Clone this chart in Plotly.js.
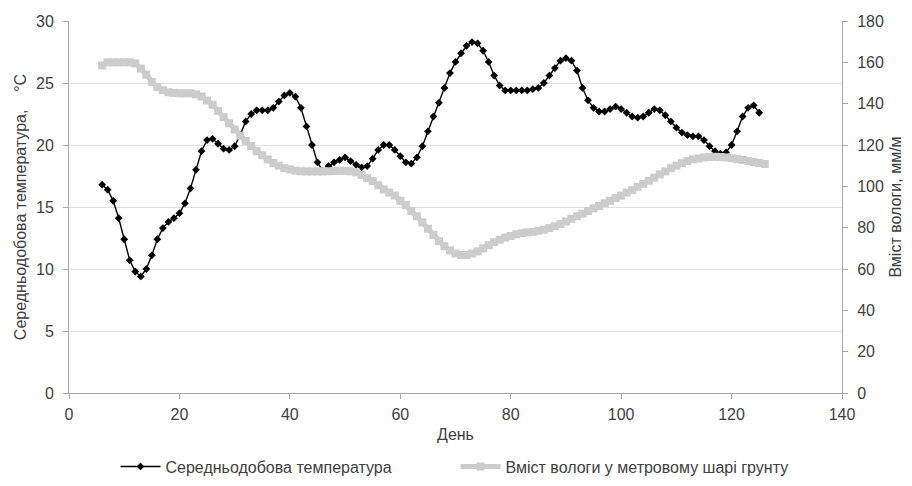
<!DOCTYPE html>
<html>
<head>
<meta charset="utf-8">
<script src="https://cdn.plot.ly/plotly-3.0.1.min.js"></script>
<style>html,body{margin:0;padding:0;background:#fff;}#chart{width:912px;height:486px;}</style>
</head>
<body>
<div id="chart"></div>
<script>
// Days
const tempStartDay = 6;
const moistStartDay = 6;

// Середньодобова температура, °C (days 6..125)
const temperature = [
  16.8, 16.4, 15.5, 14.1, 12.4, 10.7, 9.8, 9.4, 10.0, 11.1,
  12.4, 13.3, 13.8, 14.1, 14.5, 15.3, 16.5, 18.0, 19.5, 20.4,
  20.5, 20.1, 19.7, 19.6, 19.9, 20.8, 21.9, 22.5, 22.8, 22.8,
  22.8, 23.0, 23.5, 24.0, 24.2, 23.9, 23.0, 21.5, 20.0, 18.6,
  17.9, 18.3, 18.6, 18.8, 19.0, 18.7, 18.4, 18.2, 18.3, 18.9,
  19.6, 20.0, 20.0, 19.6, 19.1, 18.6, 18.5, 19.0, 19.9, 21.1,
  22.3, 23.4, 24.6, 25.8, 26.7, 27.4, 28.0, 28.3, 28.2, 27.6,
  26.7, 25.6, 24.8, 24.4, 24.4, 24.4, 24.4, 24.4, 24.5, 24.6,
  25.0, 25.6, 26.2, 26.8, 27.0, 26.8, 26.0, 24.6, 23.6, 23.0,
  22.7, 22.7, 22.9, 23.1, 22.9, 22.6, 22.3, 22.2, 22.3, 22.6,
  22.9, 22.8, 22.4, 21.9, 21.4, 21.0, 20.8, 20.7, 20.7, 20.4,
  19.9, 19.5, 19.3, 19.4, 20.0, 21.1, 22.3, 23.0, 23.2, 22.6
];

// Вміст вологи у метровому шарі грунту, мм/м (days 6..126)
const moisture = [
  158.5, 160, 160, 160, 160, 160, 159.5, 157, 154, 150.5,
  148, 146.5, 145.5, 145.2, 145, 145, 145, 144.5, 143.5, 141.5,
  139.5, 136.5, 133.5, 130.5, 127.5, 124.5, 122, 119.5, 117, 115,
  113, 111.3, 110, 108.8, 108.2, 107.6, 107.3, 107.2, 107.2, 107.2,
  107.2, 107.3, 107.4, 107.5, 107.5, 107.3, 106.8, 105.5, 104, 102.5,
  100.5, 98.5, 97, 95.5, 93, 91, 88, 85.5, 82.5, 79.5,
  76.5, 73.5, 71, 69, 67.5, 66.8, 66.8, 67.5, 68.5, 70,
  71.5, 73, 74.2, 75.2, 76, 76.8, 77.3, 77.7, 78, 78.5,
  79, 79.8, 80.7, 81.8, 83, 84.3, 85.5, 86.8, 88, 89.3,
  90.5, 91.8, 93, 94.3, 95.5, 97, 98.3, 99.8, 101.2, 102.7,
  104.2, 105.8, 107.2, 108.8, 110, 111.2, 112.2, 113, 113.5, 114,
  114.2, 114.3, 114.2, 114, 113.6, 113.2, 112.8, 112.3, 111.8, 111.3,
  110.8
];

const seriesNames = ['Середньодобова температура', 'Вміст вологи у метровому шарі грунту'];
const xTitle = 'День';
const yTitle = 'Середньодобова температура,    °C';
const y2Title = 'Вміст вологи, мм/м';

const tempDays = temperature.map((_, i) => tempStartDay + i);
const moistDays = moisture.map((_, i) => moistStartDay + i);

const axisColor = '#a6a6a6';
const fontFam = 'Liberation Sans, Arial, sans-serif';

const traces = [
  {
    x: tempDays, y: temperature, name: seriesNames[0], type: 'scatter', mode: 'lines+markers',
    line: {color: '#000000', width: 1.4},
    marker: {symbol: 'diamond', size: 6, color: '#000000'},
    yaxis: 'y'
  },
  {
    x: moistDays, y: moisture, name: seriesNames[1], type: 'scatter', mode: 'lines+markers',
    line: {color: '#cccccc', width: 5},
    marker: {symbol: 'square', size: 8, color: '#cccccc'},
    yaxis: 'y2'
  }
];

const layout = {
  width: 912, height: 486,
  margin: {l: 69, r: 70, t: 21, b: 93},
  paper_bgcolor: '#ffffff', plot_bgcolor: '#ffffff',
  font: {family: fontFam, size: 16, color: '#404040'},
  showlegend: true,
  legend: {orientation: 'h', x: 0.5, xanchor: 'center', yref: 'container', y: 0.04, yanchor: 'middle',
           font: {size: 16, color: '#404040'}, itemwidth: 40, entrywidth: 285},
  xaxis: {
    range: [0, 140], dtick: 20, tick0: 0, showgrid: false, zeroline: false, automargin: false,
    showline: true, linecolor: axisColor, linewidth: 1,
    ticks: 'outside', ticklen: 5, tickcolor: axisColor, ticklabelstandoff: 2,
    title: {text: xTitle, font: {size: 16}, standoff: 6}
  },
  yaxis: {
    range: [0, 30], dtick: 5, tick0: 0, showgrid: true, gridcolor: '#e0e0e0', zeroline: false, automargin: false,
    showline: true, linecolor: axisColor, linewidth: 1,
    ticks: 'outside', ticklen: 5, tickcolor: axisColor, ticklabelstandoff: 6,
    title: {text: yTitle, font: {size: 16}, standoff: 5}
  },
  yaxis2: {
    overlaying: 'y', side: 'right', automargin: false,
    range: [0, 180], dtick: 20, tick0: 0, showgrid: false, zeroline: false,
    showline: true, linecolor: axisColor, linewidth: 1,
    ticks: 'outside', ticklen: 5, tickcolor: axisColor, ticklabelstandoff: 6,
    title: {text: y2Title, font: {size: 16}, standoff: 6}
  }
};

Plotly.newPlot('chart', traces, layout, {displayModeBar: false, staticPlot: true});
</script>
</body>
</html>
